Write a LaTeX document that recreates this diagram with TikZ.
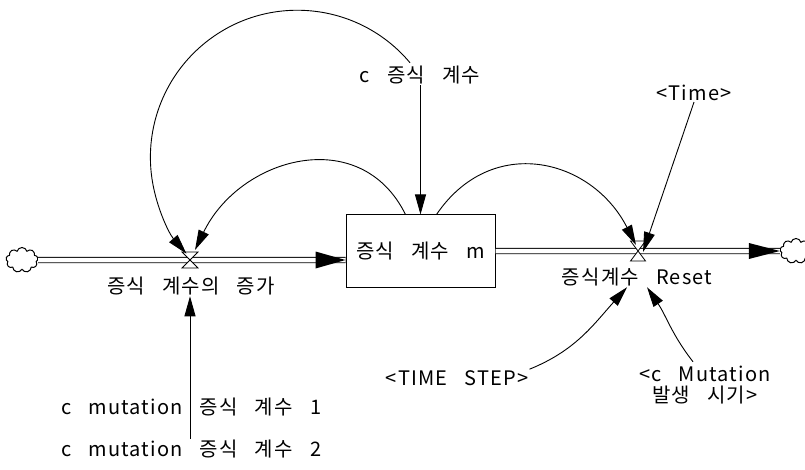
\documentclass[tikz,border=0pt]{standalone}
\usepackage{fontspec}
\setmainfont[WordSpace=3,LetterSpace=6]{Noto Sans CJK KR}
\usetikzlibrary{arrows.meta,shapes.symbols,calc}
\begin{document}
\begin{tikzpicture}[x=1pt,y=1pt,
  lbl/.style={inner sep=1pt, font=\fontsize{20}{21}\selectfont},
  stock/.style={draw, line width=1pt, minimum width=149pt, minimum height=72pt, inner sep=0pt, font=\fontsize{20}{21}\selectfont},
  link/.style={line width=0.9pt, -{Triangle[length=20pt,width=11pt]}},
  pipe/.style={double, double distance=4.5pt, line width=0.9pt},
  valve/.style={draw, fill=white, line width=0.8pt},
  cloudn/.style={cloud, cloud puffs=9, draw, line width=1pt, minimum width=32pt, minimum height=25pt, inner sep=0pt}]
\useasboundingbox (0,0) rectangle (805,469);

% nodes
\node[stock] (m) at (420.5,218) {증식 계수 m};
\node[cloudn] (cl1) at (22,209) {};
\node[cloudn] (cl2) at (796,218) {};
\coordinate (v1) at (190,209);
\coordinate (v2) at (638,218);
\node[lbl] (v1l) at (191,183) {증식 계수의 증가};
\node[lbl] (v2l) at (637,192) {증식계수 Reset};
\node[lbl] (cg) at (420,394) {c 증식 계수};
\node[lbl] (time) at (694,376) {<Time>};
\node[lbl] (ts) at (457,91) {<TIME STEP>};
\node[lbl, align=center] (cm) at (705,84) {<c Mutation\\발생 시기>};
\node[lbl, anchor=west] (mu1) at (60,62) {c mutation 증식 계수 1};
\node[lbl, anchor=west] (mu2) at (60,20) {c mutation 증식 계수 2};

% pipes
\draw[pipe] (cl1.east) -- (cl1 -| m.west);
\fill (cl1 -| m.west) -- ++(-30,8.5) -- ++(0,-17) -- cycle;
\draw[pipe] (m.east) -- (cl2.west);
\fill (cl2.west) -- ++(-31,8) -- ++(0,-16) -- cycle;

% valves
\draw[valve] ($(v1)+(-8,8)$) -- ($(v1)+(8,8)$) -- ($(v1)+(-8,-8)$) -- ($(v1)+(8,-8)$) -- cycle;
\draw[valve] ($(v2)+(-7.5,10)$) -- ($(v2)+(7.5,10)$) -- ($(v2)+(-7.5,-10)$) -- ($(v2)+(7.5,-10)$) -- cycle;

% links
\draw[link] (cg.south -| m.north) -- (m.north);
\draw[link] ($(cg.north)+(-10,2)$) arc[start angle=40, end angle=221, radius=147];
\draw[link] ($(m.north)+(-15,0)$) .. controls +(-45,91) and ($(v1)+(50,103)$) .. ($(v1)+(5,10)$);
\draw[link] ($(m.north)+(16,0)$) .. controls +(55,81) and ($(v2)+(-46.5,93)$) .. ($(v2)+(-2,6)$);
\draw[link] (time.south) -- ($(v2)+(5,-1)$);
\draw[link] (ts.north east) to[out=22,in=228] ($(v2l.south)+(-10,0)$);
\draw[link] ($(cm.north)+(-12,3)$) to[out=128,in=-56] ($(v2l.south)+(10,0)$);
\draw[link] (v1 |- mu2.north) -- (v1 |- v1l.south);
\end{tikzpicture}
\end{document}
